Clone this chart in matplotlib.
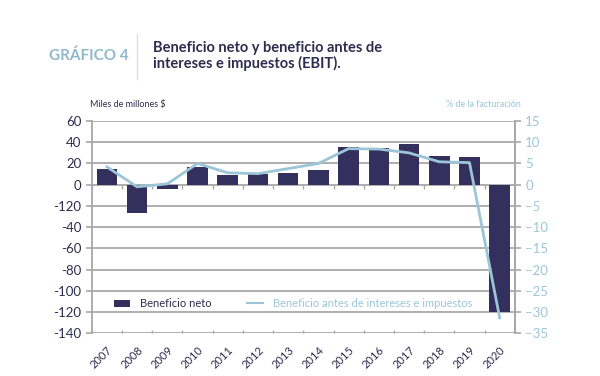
import numpy as np
import matplotlib.pyplot as plt

plt.rcParams['font.family'] = ['Lato', 'DejaVu Sans']

years = ['2007', '2008', '2009', '2010', '2011', '2012', '2013',
         '2014', '2015', '2016', '2017', '2018', '2019', '2020']
beneficio_neto = [15, -27, -4, 17, 9, 10, 11, 14, 36, 35, 38, 27, 26, -120]
ebit_pct = [4.2, -0.5, 0.2, 5.0, 2.8, 2.6, 3.8, 5.0, 8.5, 8.4, 7.5, 5.4, 5.2, -31.4]

left_ticks = [60, 40, 20, 0, -20, -40, -60, -80, -100, -120, -140]
left_labels = ['60', '40', '20', '0', '-120', '-40', '-60', '-80', '-100', '-120', '-140']
right_ticks = [15, 10, 5, 0, -5, -10, -15, -20, -25, -30, -35]

navy = '#33305e'
light = '#9cc6d8'
grid_c = '#a8a8a8'
text_c = '#2f2c4f'

fig = plt.figure(figsize=(6, 3.76), dpi=100)
ax = fig.add_axes([0.153, 0.114, 0.705, 0.564])
x = np.arange(len(years))

for t in left_ticks:
    ax.axhline(t, color=grid_c, lw=1.3, zorder=0)
ax.bar(x, beneficio_neto, width=0.68, color=navy, zorder=2, label='Beneficio neto')
ax.set_ylim(-140, 60)
ax.set_xlim(-0.5, len(years) - 0.5)
ax.set_yticks(left_ticks)
ax.set_yticklabels(left_labels)
ax.tick_params(axis='y', colors=grid_c, labelcolor=text_c, labelsize=9.5, length=4, width=1.2)
ax.set_xticks(x)
ax.set_xticklabels(years, rotation=45, ha='right', rotation_mode='anchor', fontsize=8, color=text_c)
ax.tick_params(axis='x', length=0, pad=8)
for s in ['top', 'bottom']:
    ax.spines[s].set_visible(False)
for s in ['left', 'right']:
    ax.spines[s].set_color(grid_c)
    ax.spines[s].set_linewidth(1.3)

# small tick marks at category boundaries on zero line and at the bottom
bounds = np.arange(len(years) + 1) - 0.5
ax.vlines(bounds, -4, 0, color=grid_c, lw=1.0, zorder=1)
ax.vlines(bounds, -140, -137, color=grid_c, lw=1.0, zorder=1, clip_on=False)

ax2 = ax.twinx()
ax2.plot(x, ebit_pct, color=light, lw=2, zorder=3,
         label='Beneficio antes de intereses e impuestos')
ax2.set_ylim(-35, 15)
ax2.set_yticks(right_ticks)
ax2.tick_params(axis='y', colors=grid_c, labelcolor=light, labelsize=9.5, length=4, width=1.2)
for s in ['top', 'bottom', 'left']:
    ax2.spines[s].set_visible(False)
ax2.spines['right'].set_color(grid_c)
ax2.spines['right'].set_linewidth(1.3)

h1, l1 = ax.get_legend_handles_labels()
h2, l2 = ax2.get_legend_handles_labels()
leg = ax2.legend(h1 + h2, l1 + l2, loc='lower left', bbox_to_anchor=(0.03, 0.065),
                 ncol=2, frameon=False, fontsize=8, handlelength=1.4,
                 columnspacing=3.2, handletextpad=0.9)
leg.get_texts()[0].set_color(text_c)
leg.get_texts()[1].set_color(light)
leg.legend_handles[1].set_linewidth(1.5)

fig.text(0.082, 0.852, 'GRÁFICO 4', color='#8fb8cb', fontsize=11, fontweight='bold',
         va='center', ha='left')
fig.add_artist(plt.Line2D([0.228, 0.228], [0.79, 0.91], color='#dddddd', lw=1))
fig.text(0.255, 0.852, 'Beneficio neto y beneficio antes de\nintereses e impuestos (EBIT).',
         color=text_c, fontsize=10.5, fontweight='bold', va='center', ha='left',
         linespacing=1.1)
fig.text(0.15, 0.722, 'Miles de millones $', color=text_c, fontsize=6.5, ha='left', va='center')
fig.text(0.868, 0.722, '% de la facturación', color=light, fontsize=6.5, ha='right', va='center')

fig.savefig('out.png', dpi=100, facecolor='white')
